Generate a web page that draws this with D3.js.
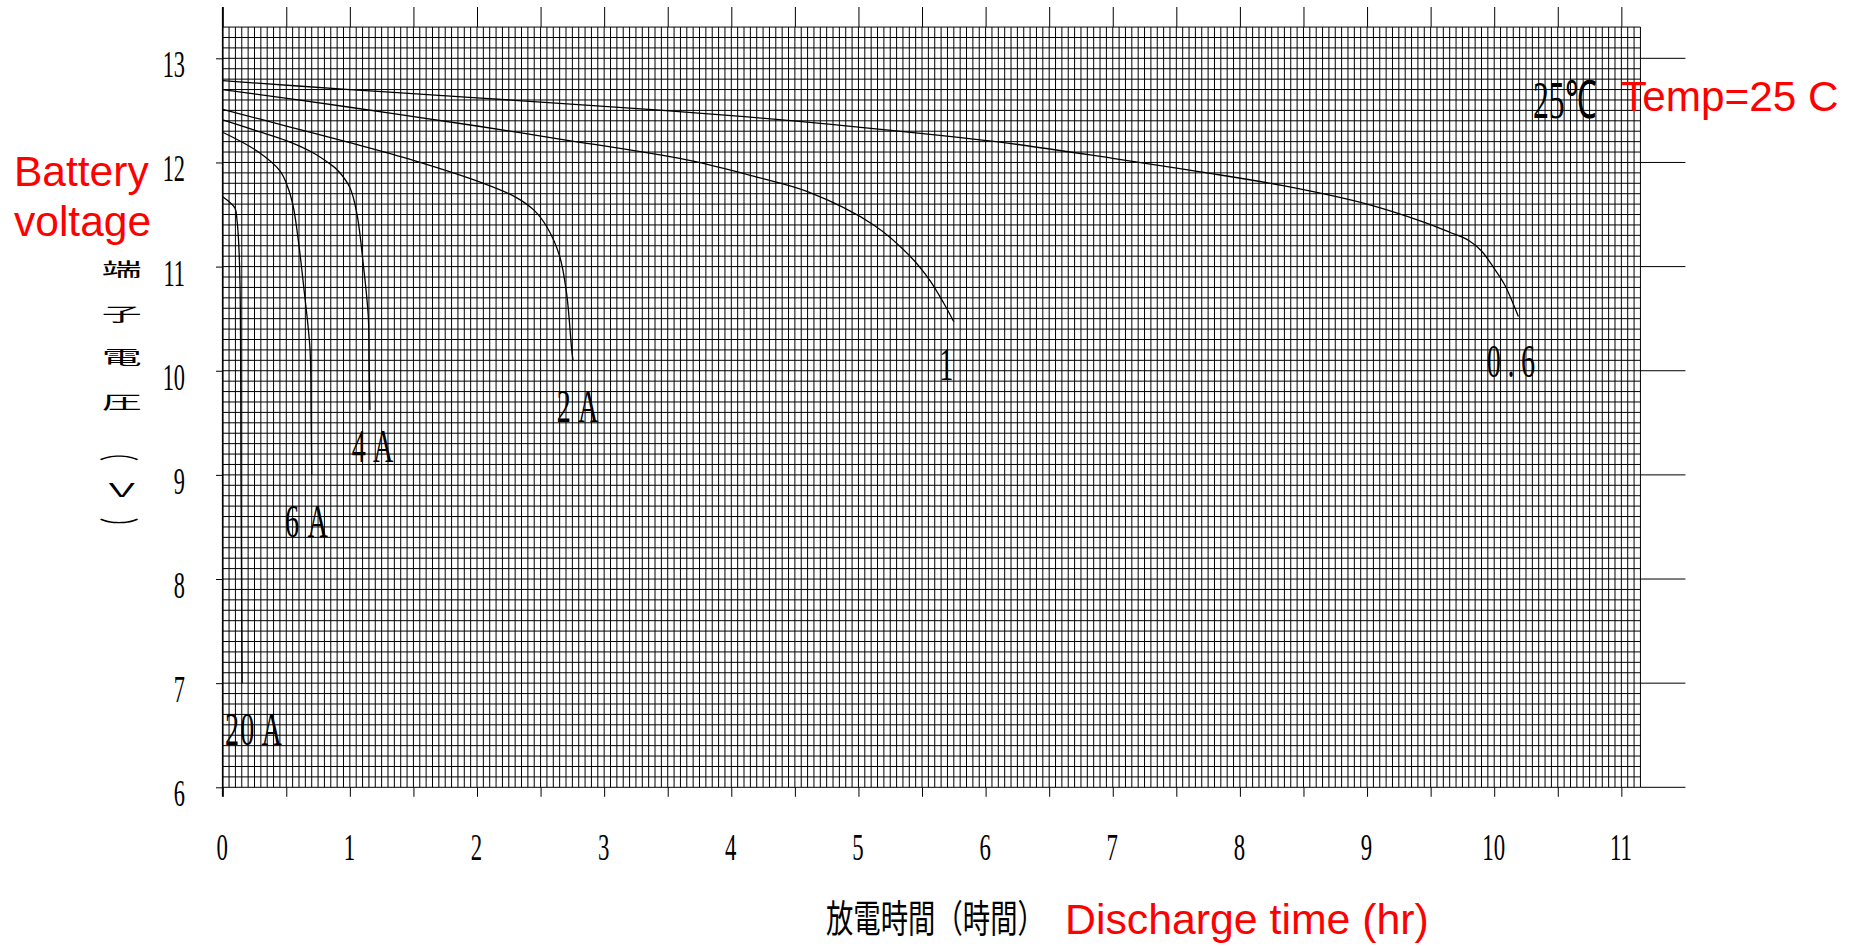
<!DOCTYPE html>
<html><head><meta charset="utf-8">
<script src="https://cdn.jsdelivr.net/npm/d3@7"></script>
<style>body{margin:0;background:#fff;overflow:hidden}</style>
</head><body>
<svg id="chart" width="1859" height="946"></svg>
<script>
// ---------- DATA ----------
const seriesNames = ["20A", "6A", "4A", "2A", "1", "0.6"];
const hours20A = [0, 0.097, 0.112, 0.123, 0.136, 0.144, 0.149, 0.153];
const volts20A = [11.67, 11.56, 11.45, 11.29, 10.84, 8.92, 7.8, 7.0];
const hours6A = [0, 0.27, 0.45, 0.51, 0.555, 0.6, 0.634, 0.687, 0.695, 0.70];
const volts6A = [12.29, 12.11, 11.92, 11.77, 11.575, 11.2, 10.84, 10.2, 9.6, 9.0];
const hours4A = [0, 0.25, 0.5, 0.7, 0.85, 0.9, 1.0, 1.055, 1.105, 1.145, 1.152, 1.158];
const volts4A = [12.41, 12.31, 12.21, 12.10, 11.98, 11.93, 11.76, 11.51, 11.03, 10.52, 10.05, 9.62];
const hours2A = [0, 0.5, 1.0, 1.5, 2.05, 2.3, 2.45, 2.55, 2.65, 2.705, 2.745, 2.755];
const volts2A = [12.51, 12.35, 12.19, 12.02, 11.80, 11.67, 11.54, 11.38, 11.10, 10.74, 10.2, 10.10];
const hours1A = [0, 1, 2, 2.65, 3.65, 4.2, 4.6, 5.12, 5.41, 5.56, 5.67, 5.75];
const volts1A = [12.70, 12.53, 12.35, 12.225, 12.024, 11.86, 11.72, 11.40, 11.095, 10.87, 10.65, 10.47];
const hours06A = [0, 1, 2, 2.65, 4, 5, 6.1, 7, 7.69, 8.34, 9.0, 9.44, 9.65, 9.80, 9.90, 9.99, 10.08, 10.19];
const volts06A = [12.785, 12.70, 12.62, 12.568, 12.45, 12.34, 12.197, 12.04, 11.91, 11.777, 11.60, 11.43, 11.33, 11.25, 11.15, 11.0, 10.83, 10.52];

const xTickLabels = [0, 1, 2, 3, 4, 5, 6, 7, 8, 9, 10, 11];
const yTickLabels = [6, 7, 8, 9, 10, 11, 12, 13];
const xTitleJa = "放電時間（時間）";
const xTitleEn = "Discharge time (hr)";
const yTitleJaChars = ["端", "子", "電", "圧", "（", "Ｖ", "）"];
const yTitleEnLines = ["Battery", "voltage"];
const tempLabelJa = "25℃";
const tempLabelEn = "Temp=25 C";

// ---------- LAYOUT ----------
const svg = d3.select("#chart");
const xMax = 11.15, yMin = 6, yMax = 13.3;
const x = d3.scaleLinear().domain([0, xMax]).range([222.7, 222.7 + xMax * 127.15]);
const y = d3.scaleLinear().domain([yMin, yMax]).range([787.3, 787.3 - (yMax - yMin) * 104.14]);

const serif = "'Liberation Serif','Times New Roman',serif";
const sans = "'Liberation Sans',Arial,sans-serif";
const cjk = "'Noto Sans CJK JP','Noto Sans CJK SC',sans-serif";

// grid
const gGrid = svg.append("g").attr("stroke", "#000").attr("stroke-width", 1);
const vLines = d3.range(0, Math.round(xMax / 0.05) + 1).map(i => +(i * 0.05).toFixed(2));
const hLines = d3.range(0, Math.round((yMax - yMin) / 0.1) + 1).map(i => +(yMin + i * 0.1).toFixed(1));
gGrid.selectAll("line.v").data(vLines).join("line").attr("class", "v")
  .attr("x1", d => x(d)).attr("x2", d => x(d)).attr("y1", y(yMin)).attr("y2", y(yMax));
gGrid.selectAll("line.h").data(hLines).join("line").attr("class", "h")
  .attr("y1", d => y(d)).attr("y2", d => y(d)).attr("x1", x(0)).attr("x2", x(xMax));

// right extensions of integer voltage lines
const halfHours = d3.range(0, 22 + 1).map(i => i * 0.5);
svg.append("g").attr("stroke", "#000").attr("stroke-width", 1)
  .selectAll("line").data(yTickLabels).join("line")
  .attr("x1", x(xMax)).attr("x2", x(xMax) + 45).attr("y1", d => y(d)).attr("y2", d => y(d));

// left border
svg.append("line").attr("x1", x(0)).attr("x2", x(0)).attr("y1", 7).attr("y2", y(yMin) + 9.5)
  .attr("stroke", "#000").attr("stroke-width", 1.6);

// top ticks
const gTop = svg.append("g").attr("transform", `translate(0,${y(yMax)})`)
  .call(d3.axisTop(x).tickValues(halfHours).tickSize(y(yMax) - 7).tickFormat(""));
gTop.select(".domain").remove();
gTop.selectAll("line").attr("stroke", "#000");

// bottom ticks
const gBot = svg.append("g").attr("transform", `translate(0,${y(yMin)})`)
  .call(d3.axisBottom(x).tickValues(halfHours).tickSize(9.5).tickFormat(""));
gBot.select(".domain").remove();
gBot.selectAll("line").attr("stroke", "#000");

// bottom labels
const gXLab = svg.append("g").attr("transform", `translate(0,${y(yMin)})`)
  .call(d3.axisBottom(x).tickValues(xTickLabels).tickSize(0).tickFormat(d3.format("d")));
gXLab.select(".domain").remove();
gXLab.selectAll("text").attr("y", null).attr("dy", null)
  .attr("transform", "translate(-1,72.7) scale(0.6,1)")
  .attr("font-family", serif).attr("font-size", 38).attr("fill", "#000");

// left ticks + labels
const gY = svg.append("g").attr("transform", `translate(${x(0)},0)`)
  .call(d3.axisLeft(y).tickValues(yTickLabels).tickSize(6.7).tickFormat(d3.format("d")));
gY.select(".domain").remove();
gY.selectAll("line").attr("stroke", "#000");
gY.selectAll("text").attr("x", 0).attr("dy", null)
  .attr("transform", "translate(-37.7,18.5) scale(0.58,1)")
  .attr("font-family", serif).attr("font-size", 38.5).attr("fill", "#000");

// curves
const series = [
  {name: seriesNames[0], h: hours20A, v: volts20A},
  {name: seriesNames[1], h: hours6A, v: volts6A},
  {name: seriesNames[2], h: hours4A, v: volts4A},
  {name: seriesNames[3], h: hours2A, v: volts2A},
  {name: seriesNames[4], h: hours1A, v: volts1A},
  {name: seriesNames[5], h: hours06A, v: volts06A}
];
const line = d3.line().x(d => x(d[0])).y(d => y(d[1])).curve(d3.curveCatmullRom.alpha(0.5));
svg.append("g").selectAll("path").data(series).join("path")
  .attr("d", s => line(s.h.map((h, i) => [h, s.v[i]])))
  .attr("fill", "none").attr("stroke", "#000").attr("stroke-width", 1.3);

// curve labels (anchor positions in data units); last glyph is pushed right by gap
const curveLabelPos = [
  {h: 0.018, v: 6.406, ls: 2, gap: 10},
  {h: 0.49, v: 8.406, ls: 0, gap: 14},
  {h: 1.015, v: 9.127, ls: 0, gap: 12},
  {h: 2.627, v: 9.51, ls: 0, gap: 12},
  {h: 5.636, v: 9.911, ls: 0, gap: 0},
  {h: 9.941, v: 9.943, ls: 11, gap: 0}
];
const lab = svg.append("g").selectAll("text").data(series).join("text")
  .attr("transform", (s, i) => `translate(${x(curveLabelPos[i].h)},${y(curveLabelPos[i].v)}) scale(0.6,1)`)
  .attr("font-family", serif).attr("font-size", 47).attr("fill", "#000")
  .attr("letter-spacing", (s, i) => curveLabelPos[i].ls);
lab.each(function(s, i) {
  const t = d3.select(this);
  const p = curveLabelPos[i];
  if (p.gap > 0 && s.name.length > 1) {
    t.append("tspan").text(s.name.slice(0, -1));
    t.append("tspan").attr("dx", p.gap).text(s.name.slice(-1));
  } else {
    t.text(s.name);
  }
});

// 25℃
svg.append("text").attr("transform", `translate(${x(10.305)},${y(12.428)}) scale(0.6,1)`)
  .attr("font-family", serif).attr("font-size", 53).attr("fill", "#000").text(tempLabelJa);

// red annotations
svg.append("text").attr("x", 1621).attr("y", 111).attr("font-family", sans).attr("font-size", 42.3)
  .attr("fill", "#ff0000").text(tempLabelEn);
svg.append("g").selectAll("text").data(yTitleEnLines).join("text")
  .attr("x", 14).attr("y", (d, i) => 186 + i * 50).attr("font-family", sans).attr("font-size", 42.5)
  .attr("fill", "#ff0000").text(d => d);
svg.append("text").attr("x", 1065).attr("y", 934).attr("font-family", sans).attr("font-size", 42.8)
  .attr("fill", "#ff0000").text(xTitleEn);

// Japanese x title
svg.append("text").attr("transform", "translate(826,932) scale(0.72,1)")
  .attr("font-family", cjk).attr("font-size", 38).attr("fill", "#000").text(xTitleJa);

// Japanese vertical y title
const yTitleCy = [268, 313, 356, 401, 452, 489, 527];
const gYT = svg.append("g");
yTitleJaChars.forEach((ch, i) => {
  const isParen = ch === "（" || ch === "）";
  gYT.append("text")
    .attr("transform", `translate(121.7,${yTitleCy[i]}) scale(1,0.46)` + (isParen ? " rotate(90)" : ""))
    .attr("text-anchor", "middle").attr("dominant-baseline", "central")
    .attr("font-family", cjk).attr("font-size", 40).attr("fill", "#000").text(ch);
});
</script>
</body></html>
